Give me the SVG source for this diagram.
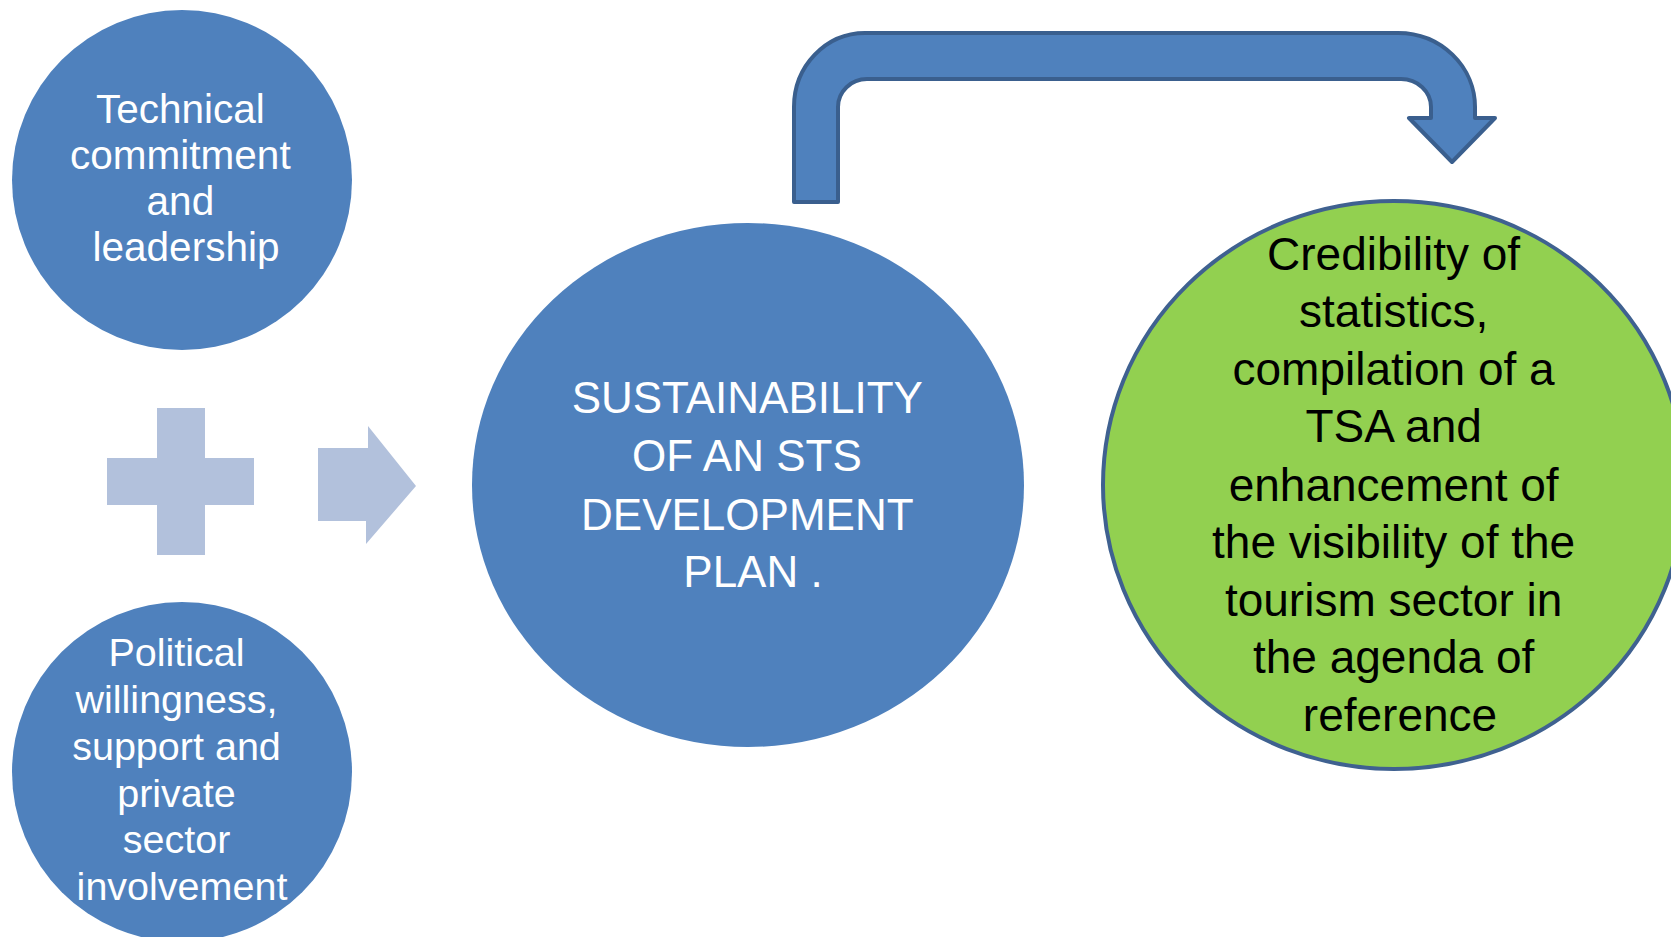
<svg xmlns="http://www.w3.org/2000/svg" width="1671" height="937" viewBox="0 0 1671 937">
<style>
.node{fill:#4F81BD;}
.green{fill:#92D050;stroke:#3F6190;stroke-width:4;}
.wt{font-family:"Liberation Sans",Arial,sans-serif;fill:#FFFFFF;text-anchor:middle;}
.bt{font-family:"Liberation Sans",Arial,sans-serif;fill:#000000;text-anchor:middle;}
.light{fill:#B2C1DC;}
.bent{fill:#4F81BD;stroke:#3A5F8E;stroke-width:4;stroke-linejoin:round;}
</style>
<rect x="0" y="0" width="1671" height="937" fill="#FFFFFF"/>
<g id="connectors">
<path class="bent" d="M 794 202 L 794 107 A 71 74 0 0 1 865 33 L 1398 33 A 77 74 0 0 1 1475 107 L 1475 118 L 1495 118 L 1452 162 L 1409 118 L 1431 118 L 1431 107 A 30 28 0 0 0 1401 79 L 867 79 A 29 28 0 0 0 838 107 L 838 202 Z"/>
<path class="light" d="M 318 448 L 368 448 L 368 426 L 416 486 L 366 544 L 366 521 L 318 521 Z"/>
</g>
<g id="plus">
<path class="light" d="M 157 408 L 205 408 L 205 458 L 254 458 L 254 505 L 205 505 L 205 555 L 157 555 L 157 505 L 107 505 L 107 458 L 157 458 Z"/>
</g>
<g id="node-technical">
<circle class="node" cx="182" cy="180" r="170"/>
<text class="wt" font-size="40.5">
<tspan x="186" y="123">Technical</tspan>
<tspan x="186" y="169">commitment</tspan>
<tspan x="186" y="215">and</tspan>
<tspan x="186" y="261">leadership</tspan>
</text>
</g>
<g id="node-political">
<circle class="node" cx="182" cy="772" r="170"/>
<text class="wt" font-size="39.5">
<tspan x="182" y="666">Political</tspan>
<tspan x="182" y="713">willingness,</tspan>
<tspan x="182" y="760">support and</tspan>
<tspan x="182" y="807">private</tspan>
<tspan x="182" y="853">sector</tspan>
<tspan x="182" y="900">involvement</tspan>
</text>
</g>
<g id="node-sustainability">
<ellipse class="node" cx="748" cy="485" rx="276" ry="262"/>
<text class="wt" font-size="44">
<tspan x="753" y="413">SUSTAINABILITY</tspan>
<tspan x="753" y="471">OF AN STS</tspan>
<tspan x="753" y="530">DEVELOPMENT</tspan>
<tspan x="753" y="587">PLAN .</tspan>
</text>
</g>
<g id="node-credibility">
<ellipse class="green" cx="1394" cy="485" rx="291" ry="284"/>
<text class="bt" font-size="46">
<tspan x="1400" y="270">Credibility of</tspan>
<tspan x="1400" y="327">statistics,</tspan>
<tspan x="1400" y="385">compilation of a</tspan>
<tspan x="1400" y="442">TSA and</tspan>
<tspan x="1400" y="501">enhancement of</tspan>
<tspan x="1400" y="558">the visibility of the</tspan>
<tspan x="1400" y="616">tourism sector in</tspan>
<tspan x="1400" y="673">the agenda of</tspan>
<tspan x="1400" y="731">reference</tspan>
</text>
</g>
</svg>
